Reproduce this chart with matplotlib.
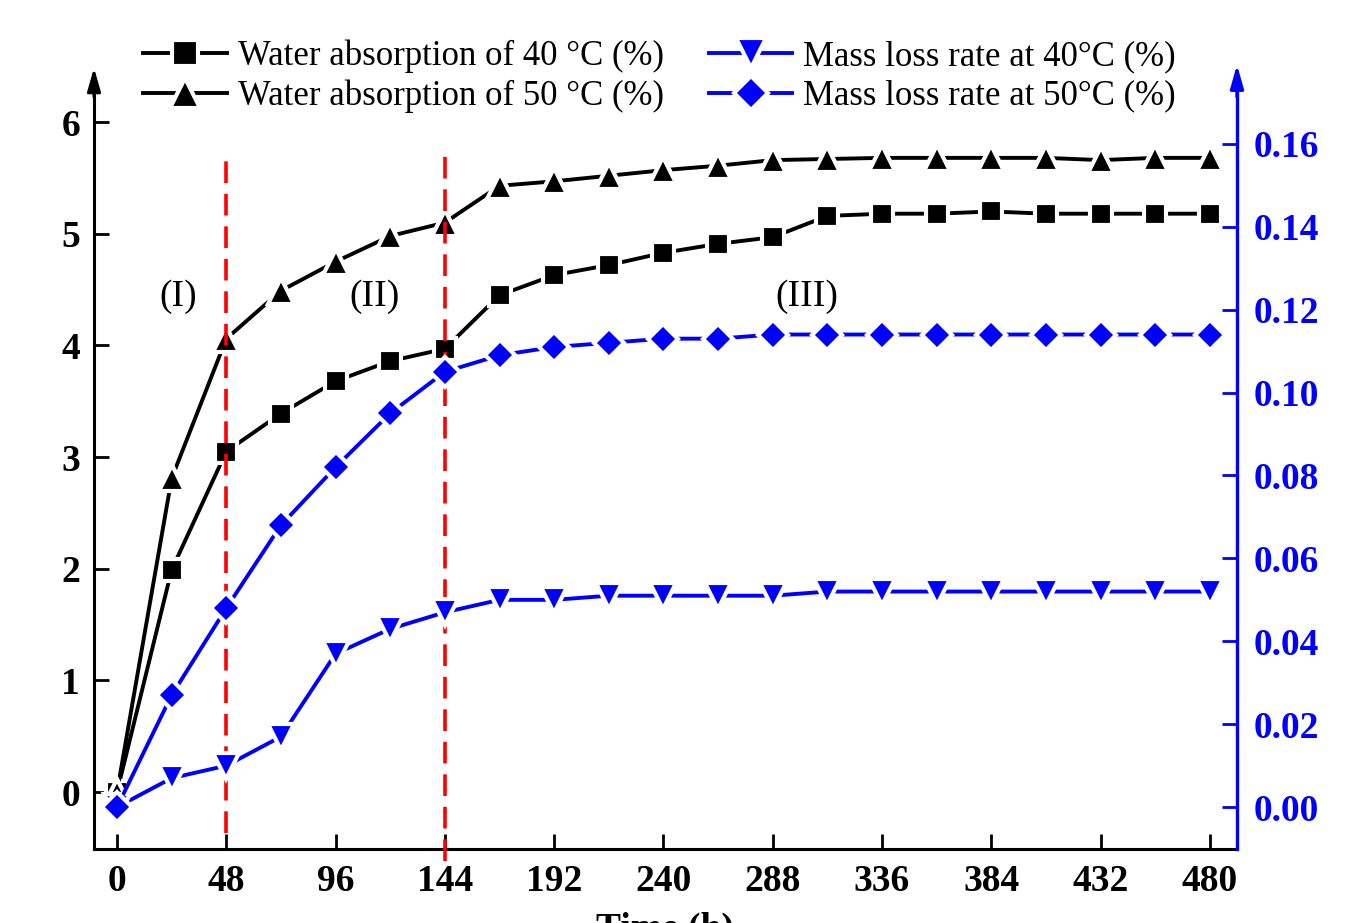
import matplotlib
matplotlib.use("Agg")
from matplotlib import pyplot as plt

# time (h)
hours = [0, 24, 48, 72, 96, 120, 144, 168, 192, 216, 240, 264, 288,
         312, 336, 360, 384, 408, 432, 456, 480]

# water absorption (%), left axis
wa_40 = [0, 1.99, 3.05, 3.39, 3.68, 3.86, 3.97, 4.45, 4.63, 4.72, 4.83,
         4.91, 4.97, 5.16, 5.18, 5.18, 5.20, 5.18, 5.18, 5.18, 5.18]
wa_50 = [0, 2.81, 4.06, 4.49, 4.75, 4.98, 5.10, 5.43, 5.47, 5.52, 5.57,
         5.61, 5.66, 5.67, 5.68, 5.68, 5.68, 5.68, 5.66, 5.68, 5.68]

# mass loss rate (%), right axis
ml_40 = [0, 0.007, 0.010, 0.017, 0.037, 0.043, 0.047, 0.050, 0.050, 0.051,
         0.051, 0.051, 0.051, 0.052, 0.052, 0.052, 0.052, 0.052, 0.052,
         0.052, 0.052]
ml_50 = [0, 0.027, 0.048, 0.068, 0.082, 0.095, 0.105, 0.109, 0.111, 0.112,
         0.113, 0.113, 0.114, 0.114, 0.114, 0.114, 0.114, 0.114, 0.114,
         0.114, 0.114]

# stage boundaries and labels
stage_x = [48, 144]
stage_top = [5.68, 5.75]
stage_bottom = [-0.37, -0.62]
stage_names = ["(I)", "(II)", "(III)"]
stage_name_x = [27, 113, 303]
stage_name_y = 4.44

x_ticks = list(range(0, 481, 48))
left_ticks = [0, 1, 2, 3, 4, 5, 6]
right_ticks = [0.00, 0.02, 0.04, 0.06, 0.08, 0.10, 0.12, 0.14, 0.16]

plt.rcParams["font.family"] = ["Liberation Serif", "DejaVu Serif"]

W, H = 1350, 923
fig = plt.figure(figsize=(13.5, 9.23), dpi=100)
ax = fig.add_axes([94 / W, 1 - 849 / H, (1237 - 94) / W, (849 - 92) / H])
ax2 = ax.twinx()

line_kw = dict(lw=2.8, mec="white", mew=3)
l1, = ax.plot(hours, wa_40, color="black", marker="s", ms=16.5, **line_kw,
              label="Water absorption of 40 \u00b0C (%)", zorder=5)
l2, = ax.plot(hours, wa_50, color="black", marker="^", ms=19, **line_kw,
              label="Water absorption of 50 \u00b0C (%)", zorder=5)
l3, = ax2.plot(hours, ml_40, color="#0000ff", marker="v", ms=19, **line_kw,
               label="Mass loss rate at 40\u00b0C (%)", zorder=5)
l4, = ax2.plot(hours, ml_50, color="#0000ff", marker="D", ms=15.5, **line_kw,
               label="Mass loss rate at 50\u00b0C (%)", zorder=5)

for xv, y0, y1 in zip(stage_x, stage_bottom, stage_top):
    ax.plot([xv, xv], [y0, y1], color="#ff0000", lw=2.6, ls=(0, (6, 3)),
            clip_on=False, zorder=6)

for name, xv in zip(stage_names, stage_name_x):
    ax.text(xv, stage_name_y, name, fontsize=27, ha="center", va="center")

ax.set_xlim(-10.1, 491.9)
ax.set_ylim(-0.51, 6.27)
ax2.set_ylim(-0.0101, 0.1725)

ax.set_xticks(x_ticks)
ax.set_yticks(left_ticks)
ax2.set_yticks(right_ticks)
ax2.set_yticklabels(["%.2f" % v for v in right_ticks])

ax.spines["top"].set_visible(False)
ax.spines["right"].set_visible(False)
ax2.spines["top"].set_visible(False)
ax2.spines["left"].set_visible(False)
ax2.spines["bottom"].set_visible(False)
for s in ["left", "bottom"]:
    ax.spines[s].set_linewidth(2.2)
ax2.spines["right"].set_linewidth(2.4)
ax2.spines["right"].set_color("#0000ff")

ax.tick_params(axis="both", direction="in", width=2, length=11,
               labelsize=27, pad=10)
ax.tick_params(axis="x", pad=11)
ax2.tick_params(axis="y", direction="in", width=2, length=11,
                labelsize=27, pad=12, color="#0000ff", labelcolor="#0000ff")
for lab in ax.get_xticklabels() + ax.get_yticklabels() + ax2.get_yticklabels():
    lab.set_fontweight("bold")

# axis arrows
ax.annotate("", xy=(0, 1 + 27 / 757), xytext=(0, 0.99), xycoords="axes fraction",
            arrowprops=dict(arrowstyle="-|>,head_length=1.4,head_width=0.4",
                            color="black", lw=2.2), annotation_clip=False)
ax2.annotate("", xy=(1, 1 + 30 / 757), xytext=(1, 0.99), xycoords="axes fraction",
             arrowprops=dict(arrowstyle="-|>,head_length=1.4,head_width=0.4",
                             color="#0000ff", lw=2.4), annotation_clip=False)

fig.text(665 / W, 1 - 912 / H, "Time (h)", fontsize=27, fontweight="bold",
         ha="center", va="top")

leg = fig.legend(handles=[l1, l2, l3, l4], ncol=2, loc="upper left",
                 bbox_to_anchor=(126 / W, 1 - 22 / H), frameon=False,
                 fontsize=25, handlelength=2.4, handletextpad=0.32,
                 columnspacing=1.3, labelspacing=0.2, borderpad=0,
                 markerscale=1.1)

fig.savefig("out.png", dpi=100)
